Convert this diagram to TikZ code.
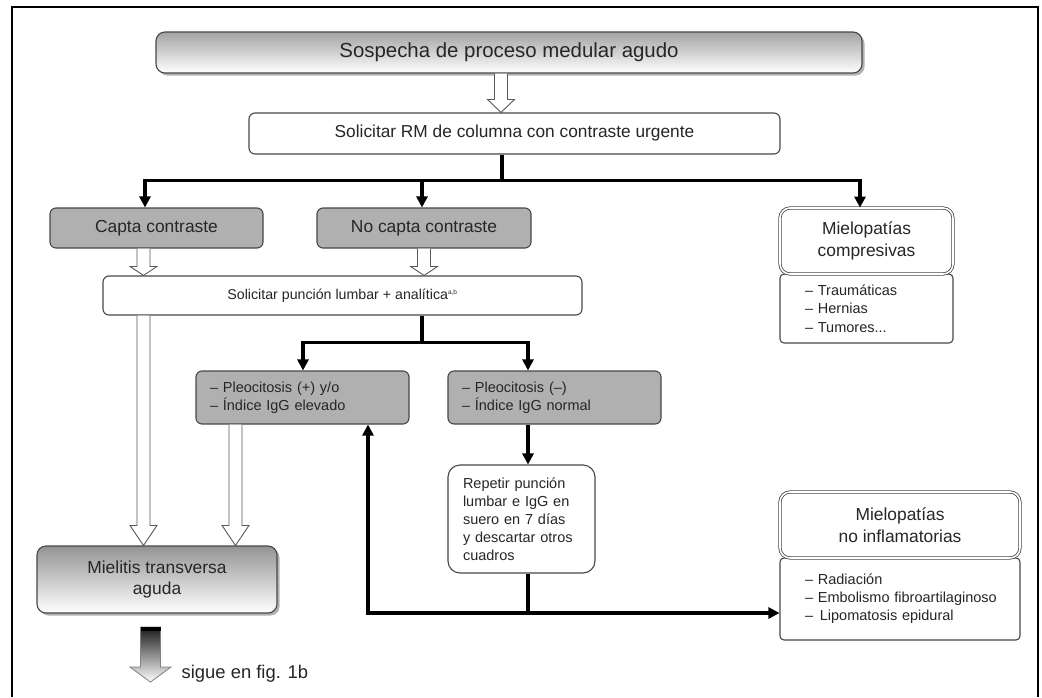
\documentclass[tikz,border=0pt]{standalone}
\usepackage{fontspec}
\setmainfont{Liberation Sans}
\usetikzlibrary{arrows.meta,shadows,calc}
\definecolor{boxgray}{gray}{0.69}
\definecolor{edgegray}{gray}{0.28}
\definecolor{txtgray}{gray}{0.15}
\newcommand\hollowarrow[3]{%
  \filldraw[hollowstyle] let \p1=#1, \p2=#2 in
  (\x1-6.5pt,\y1) -- (\x1-6.5pt,\y2+#3) -- (\x1-13.5pt,\y2+#3) -- (\x1,\y2)
  -- (\x1+13.5pt,\y2+#3) -- (\x1+6.5pt,\y2+#3) -- (\x1+6.5pt,\y1);}
\tikzset{
  basebox/.style={draw=edgegray, line width=1.1pt, text=txtgray, inner sep=0pt, align=center},
  whitebox/.style={basebox, fill=white, rounded corners=6pt},
  graybox/.style={basebox, fill=boxgray, rounded corners=6pt},
  shadebox/.style={basebox, rounded corners=9pt, top color=black!36, bottom color=white,
    drop shadow={shadow xshift=2.5pt, shadow yshift=-2.5pt, fill=black!60}},
  headbox/.style={basebox, fill=white, rounded corners=10pt, line width=0.8pt, double=white, double distance=1.6pt},
  fbig/.style={font=\fontsize{20.4}{24}\selectfont},
  fmid/.style={font=\fontsize{17.4}{21.5}\selectfont},
  fsmall/.style={font=\fontsize{14.5}{18.5}\selectfont},
  conn/.style={draw=black, line width=3.5pt, -{Triangle[length=11pt,width=11pt]}},
  connline/.style={draw=black, line width=3.5pt},
  biconn/.style={draw=black, line width=3.5pt, {Triangle[length=11pt,width=11pt]}-{Triangle[length=11pt,width=11pt]}},
  hollowstyle/.style={draw=black!65, line width=0.9pt, fill=white, line join=miter},
  gradarrow/.style={draw=black!50, line width=0.8pt, top color=black!90, bottom color=white},
  frameline/.style={draw=black, line width=1.4pt},
}
\begin{document}
\begin{tikzpicture}[x=1pt,y=-1pt]
\fill[white] (0,0) rectangle (1042,697);
\useasboundingbox (0,0) rectangle (1042,697);
\draw[frameline] (12,697) -- (12,7) -- (1038,7) -- (1038,697);

% nodes
\node[shadebox, fbig, minimum width=706pt, minimum height=41pt] (sosp) at (509,52.5) {Sospecha de proceso medular agudo};
\node[whitebox, font=\fontsize{17.3}{21}\selectfont, minimum width=531pt, minimum height=41pt] (rm) at (514.5,133.5) {Solicitar RM de columna con contraste urgente};
\node[graybox, fmid, minimum width=213pt, minimum height=40pt] (capta) at (156.5,228) {Capta contraste};
\node[graybox, fmid, minimum width=214pt, minimum height=40pt] (nocapta) at (424,228) {No capta contraste};
\node[whitebox, rounded corners=4pt, fsmall, align=left, text width=123pt, inner xsep=25pt, minimum height=69pt] (compsub) at (866.5,308.5) {– Traumáticas\\– Hernias\\– Tumores...};
\node[headbox, fmid, minimum width=173pt, minimum height=66pt] (comphead) at (866.5,241) {Mielopatías\\compresivas};
\node[whitebox, font=\fontsize{14.2}{17}\selectfont, minimum width=479pt, minimum height=39pt] (puncion) at (342.5,295.5) {Solicitar punción lumbar + analítica\textsuperscript{\fontsize{6.5}{7}\selectfont a,b}};
\node[graybox, fsmall, align=left, text width=185pt, inner xsep=14pt, minimum height=53pt] (pplus) at (302.5,397.5) {– Pleocitosis (+) y/o\\– Índice IgG elevado};
\node[graybox, fsmall, align=left, text width=185pt, inner xsep=14pt, minimum height=53pt] (pminus) at (554.5,397.5) {– Pleocitosis (–)\\– Índice IgG normal};
\node[whitebox, rounded corners=12pt, font=\fontsize{14.5}{18}\selectfont, align=left, text width=117pt, inner xsep=15pt, minimum height=108pt] (repetir) at (521.5,519) {\mbox{Repetir punción}\\\mbox{lumbar e IgG en}\\\mbox{suero en 7 días}\\\mbox{y descartar otros}\\\mbox{cuadros}};
\node[whitebox, rounded corners=4pt, font=\fontsize{14.5}{18}\selectfont, align=left, text width=190pt, inner xsep=25pt, minimum height=82pt] (noinfsub) at (900,599) {\mbox{– Radiación}\\\mbox{– Embolismo fibroartilaginoso}\\\mbox{– \hspace{2pt}Lipomatosis epidural}};
\node[headbox, fmid, minimum width=240pt, minimum height=66pt] (noinfhead) at (900,525) {Mielopatías\\no inflamatorias};
\node[shadebox, top color=black!42, fmid, minimum width=240pt, minimum height=67pt] (mielitis) at (157,579.5) {Mielitis transversa\\aguda};

% hollow arrows
\hollowarrow{($(sosp.south)+(-8,0)$)}{($(rm.north)+(-13.5,0)$)}{13pt}
\hollowarrow{($(capta.south)+(-13,0)$)}{($(puncion.north)+(-199,0)$)}{9pt}
\hollowarrow{(nocapta.south)}{($(puncion.north)+(81.5,0)$)}{9pt}
\hollowarrow{($(puncion.south)+(-199,0)$)}{($(mielitis.north)+(-13.5,0)$)}{20pt}
\hollowarrow{($(pplus.south)+(-67,0)$)}{($(mielitis.north)+(78.5,0)$)}{20pt}

% thick connectors
\coordinate (j1) at ($(rm.south)+(-12.5,26)$);
\draw[connline] ($(rm.south)+(-12.5,0)$) -- (j1);
\draw[conn] (j1) -| ($(capta.north)+(-11.5,0)$);
\draw[conn] (j1) -| ($(nocapta.north)+(-2,0)$);
\draw[conn] (j1) -| ($(comphead.north)+(-6.5,0)$);

\coordinate (j2) at ($(puncion.south)+(79.5,27)$);
\draw[connline] ($(puncion.south)+(79.5,0)$) -- (j2);
\draw[conn] (j2) -| ($(pplus.north)+(0.5,0)$);
\draw[conn] (j2) -| ($(pminus.north)+(-26.5,0)$);

\draw[conn] ($(pminus.south)+(-26.5,0)$) -- ($(repetir.north)+(6.5,0)$);
\draw[biconn] ($(pplus.south)+(65.5,0)$) |- ($(noinfsub.west)+(0,14)$);
\draw[connline] ($(repetir.south)+(6.5,0)$) -- ++(0,40);

% continuation arrow
\coordinate (ga) at ($(mielitis.south)+(-6.5,13.5)$);
\shadedraw[gradarrow] (ga) ++(-10,0) -- ++(0,40) -- ++(-10.5,0) -- ++(20.5,15) -- ++(20.5,-15) -- ++(-10.5,0) -- ++(0,-40) -- cycle;
\fill[black] ($(ga)+(-10,0)$) rectangle ($(ga)+(10,4)$);
\node[anchor=west, font=\fontsize{18.4}{22}\selectfont, text=txtgray, inner sep=0pt] (sigue) at ($(ga)+(31,47)$) {sigue en fig. 1b};
\end{tikzpicture}
\end{document}
